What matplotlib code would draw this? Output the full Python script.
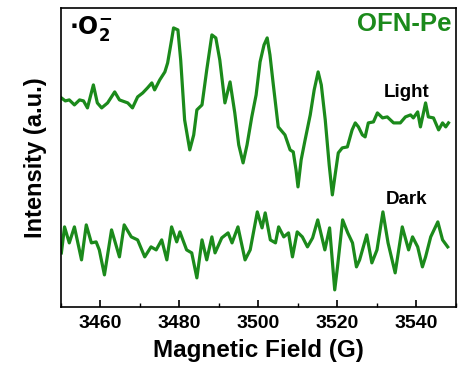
import matplotlib
matplotlib.use('Agg')
import matplotlib.pyplot as plt
from matplotlib.ticker import MultipleLocator
import numpy as np

# EPR spectra (field in G, intensity in a.u.)
light_field = [3450.1, 3451.1, 3452.1, 3453.4, 3454.7, 3455.7, 3456.7, 3458.2, 3459.2,
               3460.3, 3461.8, 3463.6, 3464.8, 3466.9, 3468.1, 3469.4, 3470.7, 3471.9,
               3473.0, 3473.7, 3475.0, 3476.3, 3477.0, 3478.0, 3478.5, 3479.6, 3480.3,
               3481.3, 3482.6, 3483.6, 3484.4, 3485.7, 3486.9, 3488.2, 3489.2, 3490.2,
               3491.5, 3492.8, 3494.0, 3495.0, 3496.1, 3497.1, 3498.3, 3499.4, 3500.4,
               3501.4, 3502.2, 3502.9, 3503.7, 3505.0, 3506.7, 3508.0, 3508.8, 3509.5,
               3510.0, 3510.8, 3511.8, 3513.1, 3514.1, 3515.1, 3515.9, 3516.9, 3517.9,
               3518.7, 3519.4, 3520.2, 3521.2, 3522.5, 3523.7, 3524.5, 3525.3, 3526.3,
               3527.0, 3527.8, 3529.1, 3530.1, 3531.4, 3532.6, 3534.2, 3535.9, 3537.2,
               3538.5, 3539.2, 3540.3, 3541.0, 3542.3, 3543.0, 3544.3, 3545.6, 3546.6,
               3547.4, 3548.1]
light_int = [209, 206, 207, 202, 207, 206, 199, 222, 204, 199, 204, 215, 207, 204, 199,
             210, 214, 219, 224, 217, 227, 235, 244, 267, 279, 277, 247, 187, 157, 172,
             197, 202, 237, 272, 269, 247, 204, 225, 194, 162, 144, 162, 190, 212, 245,
             262, 269, 252, 224, 180, 172, 157, 155, 137, 120, 147, 167, 192, 217, 235,
             222, 187, 142, 112, 132, 154, 159, 160, 177, 184, 180, 172, 170, 184, 185,
             194, 189, 190, 184, 184, 190, 192, 189, 195, 180, 204, 190, 189, 177, 184,
             180, 184]

dark_field = [3450.1, 3450.9, 3452.1, 3453.4, 3455.2, 3456.4, 3457.7, 3458.9, 3459.7,
              3461.0, 3462.8, 3464.8, 3466.0, 3467.8, 3469.4, 3471.2, 3472.8, 3474.1,
              3475.5, 3476.8, 3478.0, 3479.3, 3480.1, 3481.8, 3483.1, 3484.4, 3485.7,
              3486.9, 3488.2, 3489.0, 3490.7, 3492.3, 3493.3, 3494.8, 3496.6, 3497.9,
              3499.7, 3500.9, 3501.7, 3503.0, 3504.3, 3505.1, 3506.4, 3507.6, 3508.6,
              3509.8, 3511.1, 3512.4, 3513.7, 3515.0, 3516.8, 3518.0, 3519.3, 3520.0,
              3521.3, 3522.6, 3523.8, 3524.8, 3525.6, 3527.4, 3528.7, 3530.0, 3531.5,
              3532.8, 3534.6, 3536.4, 3538.0, 3539.0, 3540.3, 3541.5, 3542.3, 3543.6,
              3545.4, 3546.6, 3547.9]
dark_int = [54, 80, 64, 80, 47, 82, 64, 65, 57, 32, 77, 50, 82, 70, 67, 50, 60, 57, 67,
            47, 80, 65, 75, 57, 54, 29, 67, 47, 70, 54, 69, 74, 64, 80, 47, 57, 95, 79,
            94, 67, 64, 80, 70, 74, 50, 75, 70, 60, 69, 87, 57, 79, 17, 40, 87, 74, 64,
            40, 47, 72, 44, 57, 95, 64, 34, 80, 57, 70, 60, 40, 50, 70, 85, 67, 60]

green = '#1b8a1b'
font = 'Liberation Sans'

fig = plt.figure(figsize=(4.62, 3.77), dpi=100)
ax = fig.add_axes([0.132, 0.186, 0.855, 0.793])

ax.plot(light_field, light_int, color=green, lw=2.3, solid_joinstyle='round')
ax.plot(dark_field, dark_int, color=green, lw=2.3, solid_joinstyle='round')

ax.set_xlim(3450, 3550)
ax.set_ylim(0, 299)
ax.xaxis.set_major_locator(MultipleLocator(20))
ax.xaxis.set_minor_locator(MultipleLocator(10))
ax.set_yticks([])
ax.tick_params(axis='x', which='major', direction='in', length=5, width=1.2,
               labelsize=14, pad=6)
ax.tick_params(axis='x', which='minor', direction='in', length=3, width=1.0)
for lab in ax.get_xticklabels():
    lab.set_fontweight('bold')
    lab.set_family(font)
for s in ax.spines.values():
    s.set_linewidth(1.2)

ax.set_xlabel('Magnetic Field (G)', fontsize=17.5, fontweight='bold',
              family=font, labelpad=5)
ax.set_ylabel('Intensity (a.u.)', fontsize=17, fontweight='bold',
              family=font, labelpad=10)

ax.text(0.02, 0.93, r'$\mathbf{\cdot O_2^{-}}$', transform=ax.transAxes,
        fontsize=17, ha='left', va='center', family=font)
ax.text(0.988, 0.945, 'OFN-Pe', transform=ax.transAxes, color=green,
        fontsize=18.5, fontweight='bold', ha='right', va='center', family=font)
ax.text(3537.5, 214, 'Light', fontsize=13.5, fontweight='bold', ha='center',
        va='center', family=font)
ax.text(3537.5, 107, 'Dark', fontsize=13.5, fontweight='bold', ha='center',
        va='center', family=font)

fig.savefig('out.png', dpi=100)
